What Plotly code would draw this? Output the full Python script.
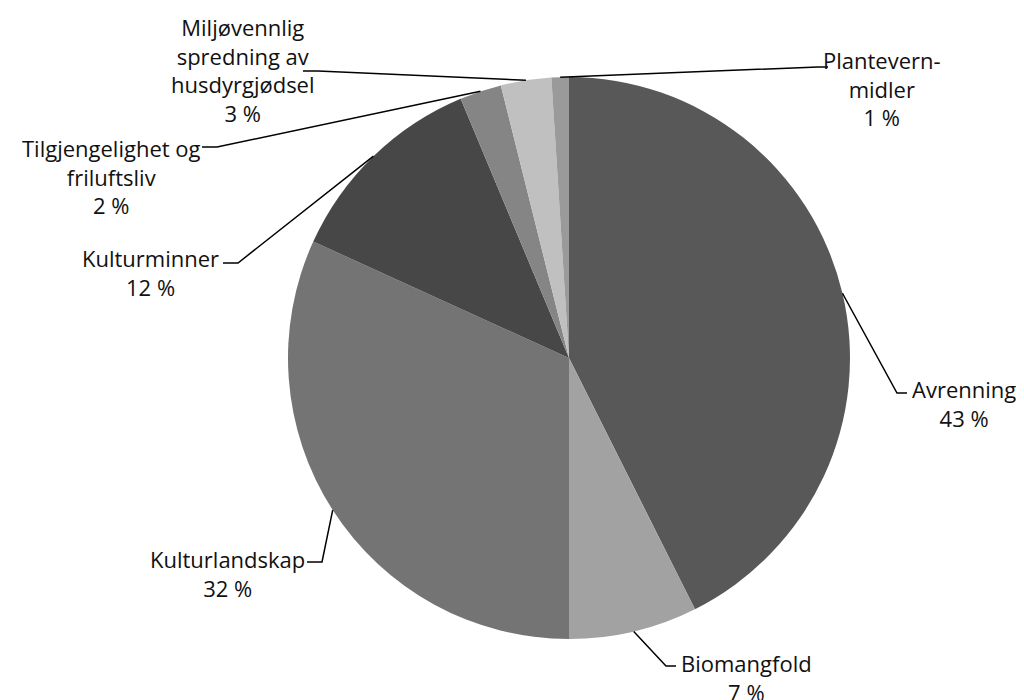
import math
import plotly.graph_objects as go

# slice data, clockwise from 12 o'clock
labels = ['Avrenning', 'Biomangfold', 'Kulturlandskap', 'Kulturminner',
          'Tilgjengelighet og<br>friluftsliv', 'Miljøvennlig<br>spredning av<br>husdyrgjødsel',
          'Plantevern-<br>midler']
values = [42.6, 7.4, 31.8, 11.9, 2.4, 2.9, 1.0]
colors = ['#585858', '#a2a2a2', '#747474', '#474747', '#858585', '#c0c0c0', '#9a9a9a']

W, H = 1024, 700
OFF = 8  # page body margin
cx, cy, R = 569, 358, 281

# label placement (pixels): elbow point, text anchor x, text center y, side
label_pos = [
    dict(elbow=(897, 393), tx=910, ty=403, side='left'),
    dict(elbow=(666, 666), tx=679, ty=677, side='left'),
    dict(elbow=(322, 562), tx=307, ty=573, side='right'),
    dict(elbow=(238, 263), tx=221, ty=272, side='right'),
    dict(elbow=(217, 147), tx=203, ty=176, side='right'),
    dict(elbow=(318, 71), tx=317, ty=70, side='right'),
    dict(elbow=(818, 67), tx=821, ty=89, side='left'),
]


def px(x, y):
    return (x - OFF) / W, 1 - (y - OFF) / H


fig = go.Figure(go.Pie(
    labels=labels, values=values, sort=False, direction='clockwise',
    rotation=0, marker=dict(colors=colors, line=dict(width=0)),
    textinfo='none', hoverinfo='label+percent', showlegend=False,
    domain=dict(x=[(cx - R - OFF) / W, (cx + R - OFF) / W],
                y=[1 - (cy + R - OFF) / H, 1 - (cy - R - OFF) / H]),
))

total = sum(values)
cum = 0
shapes, annotations = [], []
for lab, v, p in zip(labels, values, label_pos):
    mid = (cum + v / 2) / total * 2 * math.pi
    cum += v
    sx, sy = cx + R * math.sin(mid), cy - R * math.cos(mid)
    ex, ey = p['elbow']
    endx = ex - 15 if p['side'] == 'right' else ex + 10
    pts = [px(sx, sy), px(ex, ey), px(endx, ey)]
    path = 'M {} {} L {} {} L {} {}'.format(*[c for pt in pts for c in pt])
    shapes.append(dict(type='path', path=path, xref='paper', yref='paper',
                       line=dict(color='black', width=1.5)))
    pct = round(v / total * 100)
    ax, ay = px(p['tx'], p['ty'])
    annotations.append(dict(
        text=f'{lab}<br>{pct} %', x=ax, y=ay, xref='paper', yref='paper',
        xanchor='right' if p['side'] == 'right' else 'left', yanchor='middle',
        align='center', showarrow=False,
        font=dict(family='Open Sans', size=22, color='#111111'),
    ))

fig.update_layout(
    width=W, height=H, margin=dict(l=0, r=0, t=0, b=0),
    paper_bgcolor='white', plot_bgcolor='white',
    shapes=shapes, annotations=annotations,
)

fig.write_html("out.html")
